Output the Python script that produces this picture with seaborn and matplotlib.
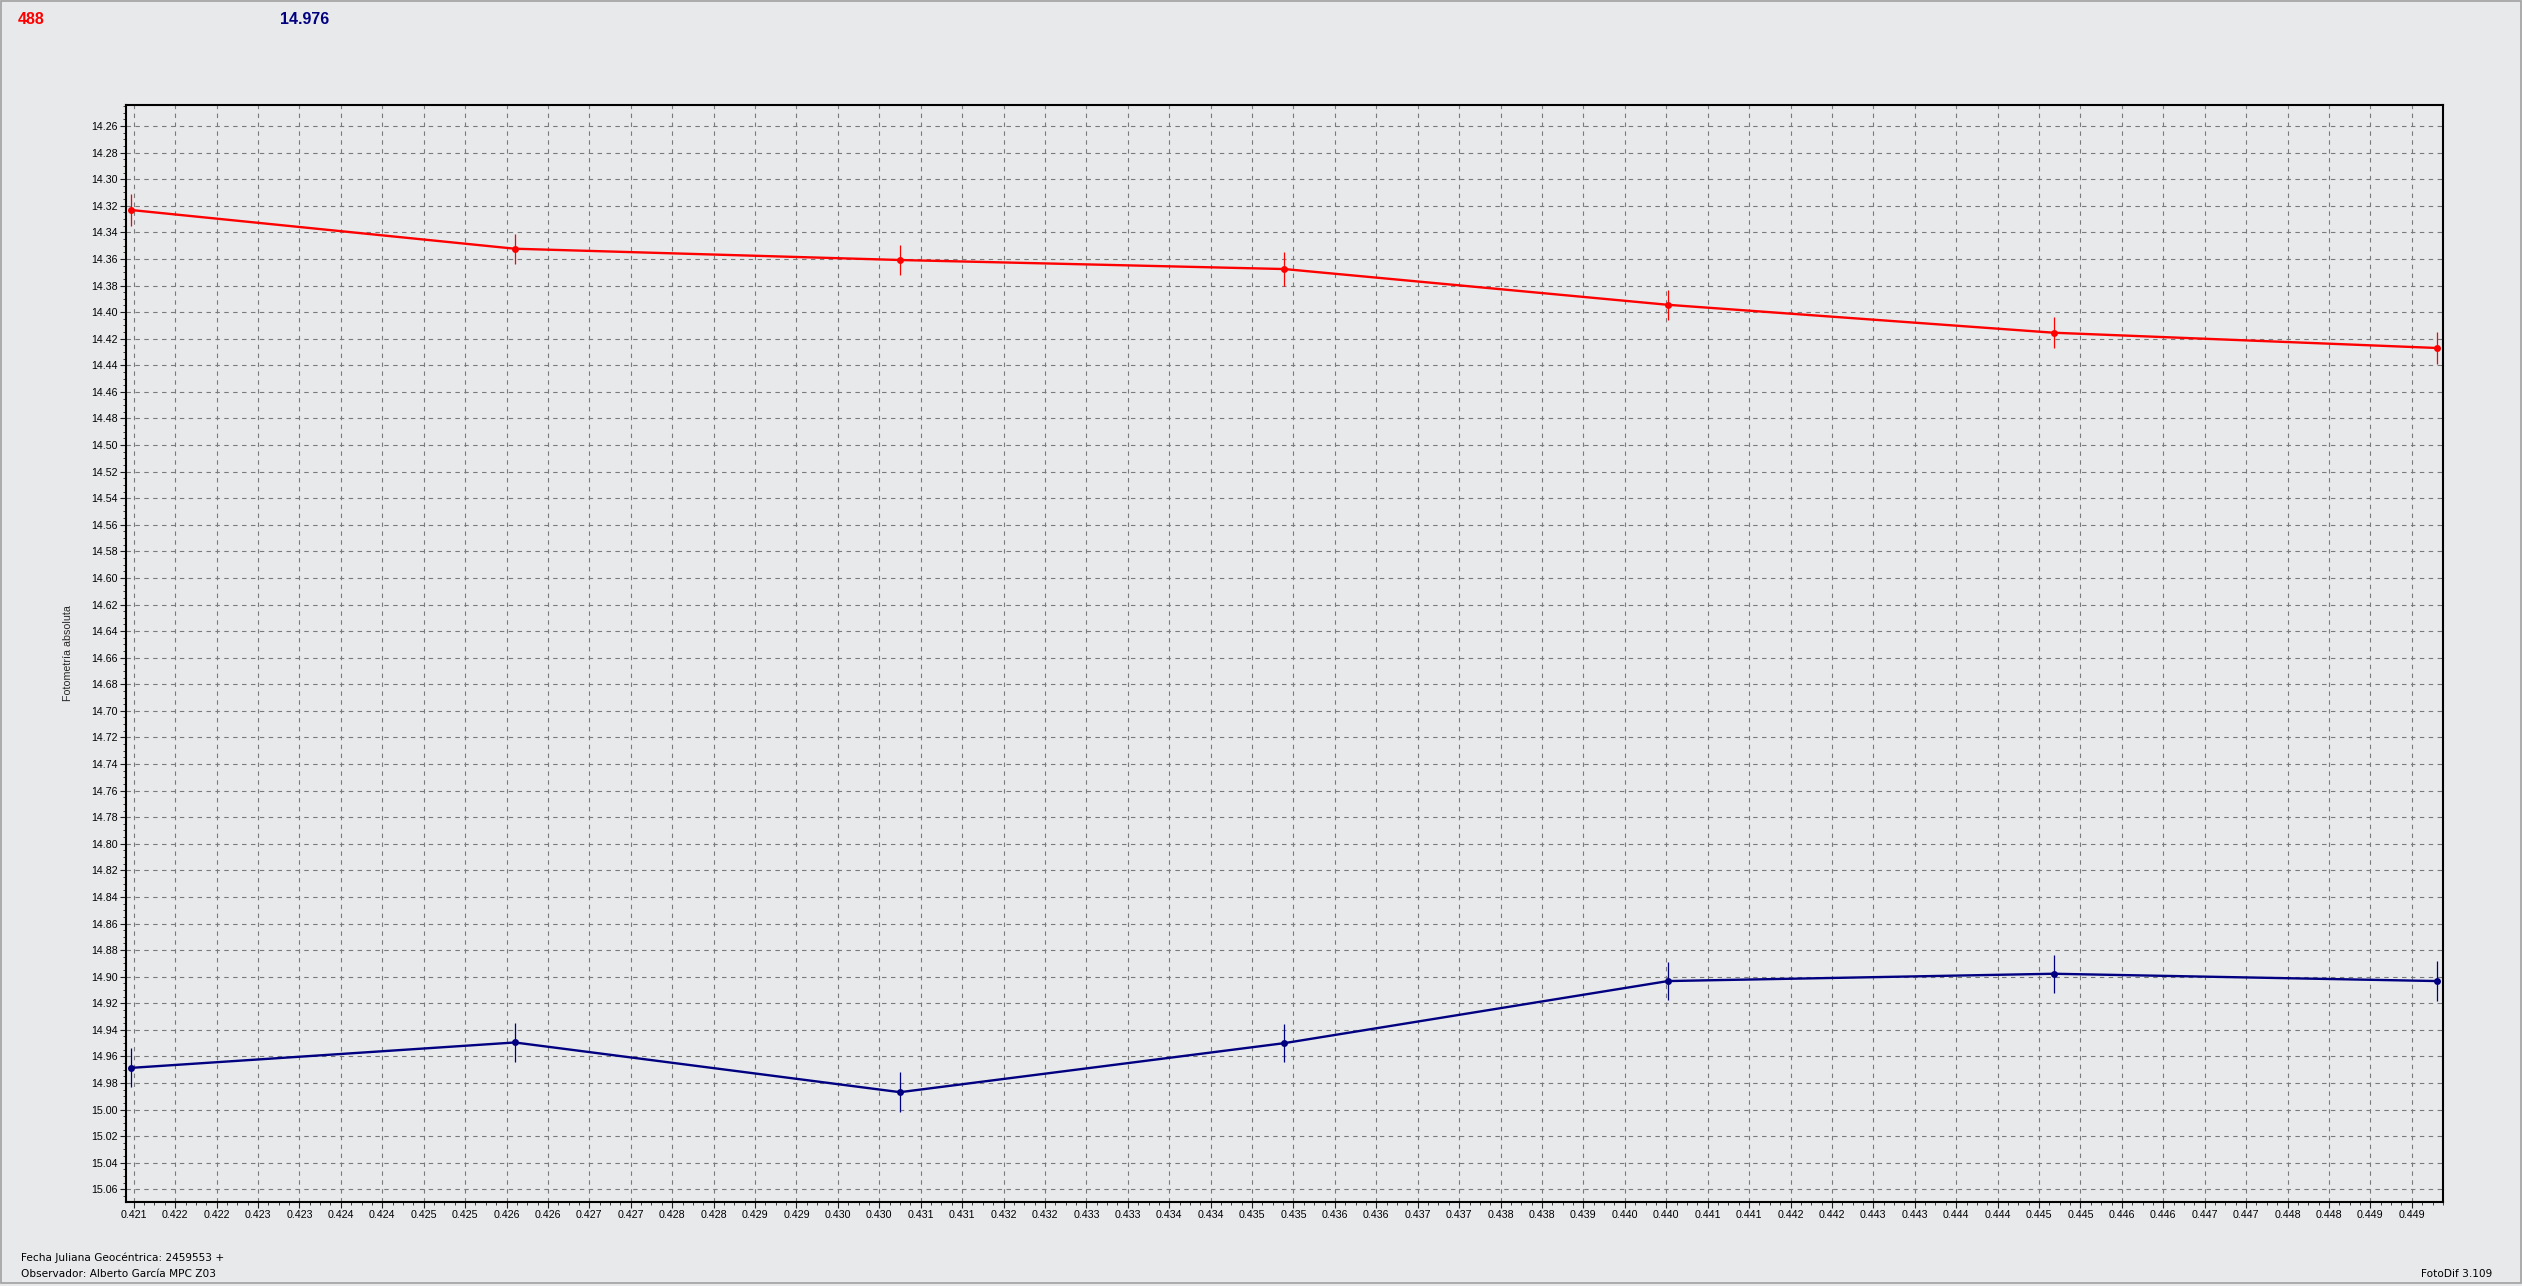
import numpy as np
import pandas as pd
import matplotlib
matplotlib.use("Agg")
import matplotlib.pyplot as plt
import seaborn as sns
from matplotlib.ticker import AutoMinorLocator, FixedLocator
from matplotlib.patches import Rectangle

# ---------------- data ----------------
jd_frac = [0.420970, 0.425729, 0.430509, 0.435279, 0.440039, 0.444824, 0.449584]
red_mag = [14.3232, 14.3523, 14.3608, 14.3676, 14.3945, 14.4155, 14.4270]
red_err = [0.0117, 0.0113, 0.0111, 0.0126, 0.0115, 0.0115, 0.0118]
blue_mag = [14.9686, 14.9495, 14.9869, 14.9500, 14.9033, 14.8978, 14.9033]
blue_err = [0.0147, 0.0145, 0.0150, 0.0145, 0.0145, 0.0143, 0.0148]

y_ticks = [14.26, 14.28, 14.30, 14.32, 14.34, 14.36, 14.38, 14.40, 14.42, 14.44,
           14.46, 14.48, 14.50, 14.52, 14.54, 14.56, 14.58, 14.60, 14.62, 14.64,
           14.66, 14.68, 14.70, 14.72, 14.74, 14.76, 14.78, 14.80, 14.82, 14.84,
           14.86, 14.88, 14.90, 14.92, 14.94, 14.96, 14.98, 15.00, 15.02, 15.04,
           15.06]
x_tick_labels = ["0.421", "0.422", "0.422", "0.423", "0.423", "0.424", "0.424",
                 "0.425", "0.425", "0.426", "0.426", "0.427", "0.427", "0.428",
                 "0.428", "0.429", "0.429", "0.430", "0.430", "0.431", "0.431",
                 "0.432", "0.432", "0.433", "0.433", "0.434", "0.434", "0.435",
                 "0.435", "0.436", "0.436", "0.437", "0.437", "0.438", "0.438",
                 "0.439", "0.440", "0.440", "0.441", "0.441", "0.442", "0.442",
                 "0.443", "0.443", "0.444", "0.444", "0.445", "0.445", "0.446",
                 "0.446", "0.447", "0.447", "0.448", "0.448", "0.449", "0.449"]
x_tick_start = 0.421
x_tick_step = 0.000514

title_left = "488"
title_right = "14.976"
y_label = "Fotometría absoluta"
footer_1 = "Fecha Juliana Geocéntrica: 2459553 +"
footer_2 = "Observador: Alberto García MPC Z03"
footer_right = "FotoDif 3.109"

# ---------------- style ----------------
BG = "#E8E9EB"
RED = "#FF0000"
NAVY = "#000080"

sns.set_style("ticks", {"axes.facecolor": BG, "figure.facecolor": BG})
plt.rcParams["font.family"] = ["Liberation Sans", "DejaVu Sans"]

W, H, DPI = 2522, 1286, 100
fig = plt.figure(figsize=(W / DPI, H / DPI), dpi=DPI, facecolor=BG)

left, right = 126 / W, 2443 / W
top, bottom = 1 - 105.3 / H, 1 - 1201.7 / H
ax = fig.add_axes([left, bottom, right - left, top - bottom])
ax.set_facecolor(BG)

df = pd.DataFrame({
    "jd": jd_frac * 2,
    "mag": red_mag + blue_mag,
    "err": red_err + blue_err,
    "serie": ["rojo"] * len(jd_frac) + ["azul"] * len(jd_frac),
})

# error bars
for name, col in (("rojo", RED), ("azul", NAVY)):
    sub = df[df["serie"] == name]
    ax.errorbar(sub["jd"], sub["mag"], yerr=sub["err"], fmt="none",
                ecolor=col, elinewidth=0.9, capsize=0, zorder=3)

sns.lineplot(data=df, x="jd", y="mag", hue="serie",
             palette={"rojo": RED, "azul": NAVY}, estimator=None, sort=False,
             marker="o", markersize=5, markeredgewidth=0, linewidth=1.7,
             legend=False, ax=ax, zorder=4)

# axes limits
ax.set_xlim(0.420904, 0.449657)
ax.set_ylim(15.0693, 14.2444)

x_ticks = [x_tick_start + x_tick_step * k for k in range(len(x_tick_labels))]
ax.xaxis.set_major_locator(FixedLocator(x_ticks))
ax.set_xticklabels(x_tick_labels)
ax.yaxis.set_major_locator(FixedLocator(y_ticks))
ax.set_yticklabels([f"{v:.2f}" for v in y_ticks])
ax.xaxis.set_minor_locator(AutoMinorLocator(4))
ax.yaxis.set_minor_locator(AutoMinorLocator(4))

ax.tick_params(axis="both", which="major", length=4, width=0.8, color="#202020",
               labelsize=7.7, labelcolor="#000000", pad=2, direction="out")
ax.tick_params(axis="both", which="minor", length=2, width=0.7, color="#404040",
               direction="out")

ax.grid(True, which="major", color="#7a7a7a", linestyle=(0, (4, 4)),
        linewidth=0.8)
ax.set_axisbelow(True)

for s in ax.spines.values():
    s.set_visible(True)
    s.set_color("#000000")
    s.set_linewidth(1.5)

ax.set_xlabel("")
ax.set_ylabel(y_label, fontsize=7.7, labelpad=14)
ax.yaxis.set_label_coords(-(126 - 73) / (2443 - 126), 0.5)

# header / footer texts
fig.text(18 / W, 1 - 20 / H, title_left, color=RED, fontsize=11.5,
         fontweight="bold", ha="left", va="center")
fig.text(280 / W, 1 - 20 / H, title_right, color=NAVY, fontsize=11.5,
         fontweight="bold", ha="left", va="center")
fig.text(21 / W, 1 - 1258 / H, footer_1, fontsize=7.6, ha="left",
         va="center", family=["DejaVu Sans"], color="#000000")
fig.text(21 / W, 1 - 1274 / H, footer_2, fontsize=7.6, ha="left",
         va="center", family=["DejaVu Sans"], color="#000000")
fig.text(2421 / W, 1 - 1274 / H, footer_right, fontsize=7.6, ha="left",
         va="center", family=["DejaVu Sans"], color="#000000")

# window frame
fig.patches.append(Rectangle((0.5 / W, 3 / H), (W - 2) / W, (H - 3.5) / H,
                             transform=fig.transFigure, fill=False,
                             edgecolor="#A0A0A0", linewidth=1.2))

fig.savefig("out.png", dpi=DPI, facecolor=BG)
